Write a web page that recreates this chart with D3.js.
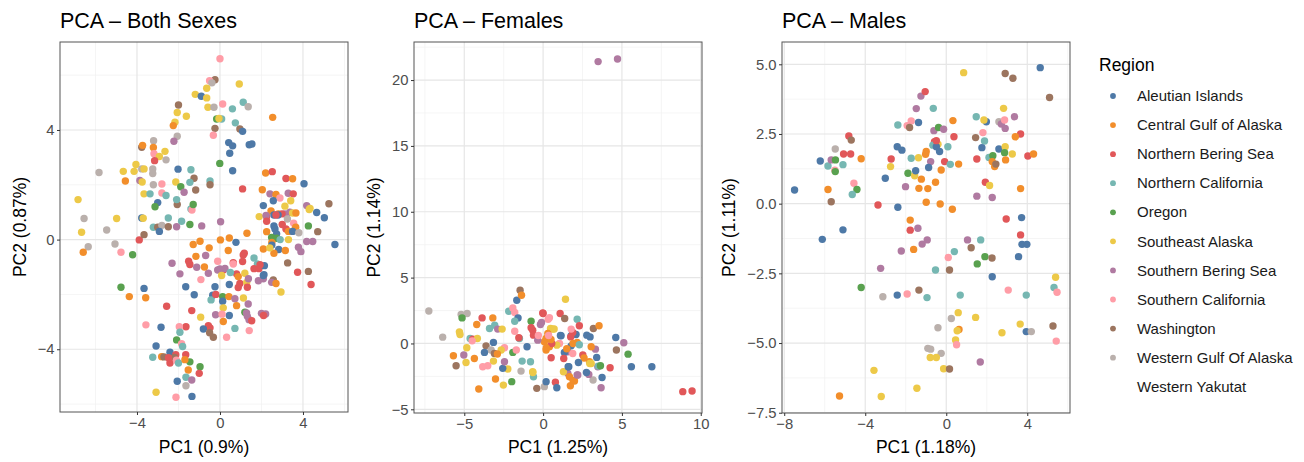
<!DOCTYPE html>
<meta charset="utf-8">
<style>
    body { margin: 0; background: #ffffff; }
    svg { display: block; font-family: "Liberation Sans", Arial, sans-serif; }
</style>

<script src="https://d3js.org/d3.v7.min.js"></script>

<svg id="chart" width="1304" height="462"></svg>

<script>

// =============================================================================
// PCA scatter panels (both sexes / females / males), coloured by region
// =============================================================================

// Data

var regions = ["Aleutian Islands", "Central Gulf of Alaska", "Northern Bering Sea",
    "Northern California", "Oregon", "Southeast Alaska", "Southern Bering Sea",
    "Southern California", "Washington", "Western Gulf Of Alaska", "Western Yakutat"];
var regionCodes = ["A", "C", "N", "K", "O", "S", "B", "P", "W", "G", "Y"];
var regionColors = ["#4E79A7", "#F28E2B", "#E15759", "#76B7B2", "#59A14F", "#EDC948",
    "#B07AA1", "#FF9DA7", "#9C755F", "#BAB0AC", null];   // 11th level has no colour

var panelTitles = ["PCA \u2013 Both Sexes", "PCA \u2013 Females", "PCA \u2013 Males"];
var xTitles = ["PC1 (0.9%)", "PC1 (1.25%)", "PC1 (1.18%)"];
var yTitles = ["PC2 (0.87%)", "PC2 (1.14%)", "PC2 (1.11%)"];

var bothXTicks = [-4, 0, 4],        bothYTicks = [-4, 0, 4];
var femaleXTicks = [-5, 0, 5, 10],  femaleYTicks = [-5, 0, 5, 10, 15, 20];
var maleXTicks = [-8, -4, 0, 4],    maleYTicks = [-7.5, -5, -2.5, 0, 2.5, 5];

// [PC1, PC2, region code]
var bothPoints = [
    [0.0,6.6,"P"],[-0.24,5.83,"W"],[-0.5,5.8,"P"],[-0.39,5.72,"G"],[0.93,5.68,"S"],[-1.19,5.3,"S"],
    [-0.9,5.23,"A"],[-0.64,5.17,"S"],[-0.64,5.52,"S"],[0.13,4.95,"P"],[-0.58,4.83,"S"],[-0.29,4.83,"G"],
    [0.6,4.77,"K"],[1.12,5.01,"K"],[1.36,4.85,"G"],[-2.0,4.91,"W"],[-2.06,4.64,"S"],[-1.62,4.5,"S"],
    [-0.16,4.4,"O"],[0.08,4.4,"K"],[-0.05,4.42,"S"],[0.74,4.26,"K"],[2.54,4.46,"C"],[-2.17,4.28,"S"],
    [-2.25,4.16,"C"],[-0.24,4.06,"W"],[0.96,4.04,"W"],[1.09,3.95,"A"],[-2.06,3.77,"G"],[-0.32,3.81,"P"],
    [-2.22,3.59,"B"],[0.42,3.54,"A"],[0.61,3.42,"A"],[1.41,3.46,"A"],[1.54,3.49,"A"],[0.47,3.15,"A"],
    [-3.2,3.61,"G"],[-3.77,3.37,"W"],[-3.73,3.44,"C"],[-3.21,3.36,"C"],[-3.18,3.13,"P"],[-2.92,3.03,"S"],
    [-2.65,3.22,"S"],[-3.15,2.88,"N"],[-2.6,2.91,"G"],[-3.24,2.58,"G"],[-3.24,2.41,"G"],[-4.05,2.74,"S"],
    [-4.14,2.49,"S"],[-3.77,2.58,"G"],[-3.66,2.58,"S"],[-4.66,2.49,"S"],[-4.56,2.14,"C"],[-5.83,2.45,"G"],
    [-3.86,2.16,"B"],[-3.75,2.1,"S"],[-3.21,2.0,"G"],[-2.02,2.57,"A"],[-1.4,2.55,"K"],[-1.25,2.24,"W"],
    [-1.45,2.09,"K"],[-0.01,2.78,"O"],[0.61,2.51,"A"],[-0.48,2.14,"K"],[-0.48,2.0,"W"],[-2.13,2.1,"S"],
    [-2.8,2.03,"P"],[-1.89,1.93,"O"],[-1.73,1.73,"B"],[-1.17,1.81,"W"],[1.09,1.85,"N"],[2.2,2.43,"C"],
    [2.52,2.48,"N"],[3.18,2.23,"N"],[3.5,2.22,"C"],[4.05,2.04,"A"],[2.04,1.82,"C"],[2.41,1.67,"B"],
    [2.7,1.65,"C"],[2.89,1.52,"P"],[3.29,1.69,"B"],[3.53,1.67,"N"],[3.41,1.42,"S"],[2.57,1.42,"A"],
    [2.09,1.24,"A"],[4.18,1.24,"B"],[5.25,1.31,"W"],[4.66,0.99,"A"],[5.03,0.8,"A"],[4.3,1.1,"S"],
    [2.46,1.05,"C"],[2.81,0.94,"C"],[3.13,0.94,"B"],[3.37,1.0,"B"],[3.5,0.97,"S"],[3.66,0.97,"C"],
    [2.99,0.94,"N"],[1.89,0.84,"S"],[2.25,0.84,"N"],[3.25,0.75,"G"],[4.26,0.5,"O"],[-1.4,1.12,"K"],
    [-1.35,1.08,"P"],[-1.29,1.28,"O"],[-2.06,1.28,"W"],[-2.09,1.46,"K"],[-3.0,1.35,"A"],[-3.13,1.2,"O"],
    [-3.66,1.67,"S"],[-3.37,1.67,"K"],[-2.8,1.7,"P"],[-2.6,1.61,"K"],[-6.84,1.46,"S"],[-6.55,0.77,"G"],
    [-4.98,0.77,"S"],[-3.77,0.79,"A"],[-3.7,0.78,"S"],[-2.49,0.79,"K"],[-1.85,0.67,"K"],[-1.45,0.55,"O"],
    [-0.88,0.5,"B"],[0.03,0.65,"B"],[-6.67,0.27,"S"],[-5.46,0.35,"G"],[-6.35,-0.26,"G"],[-6.59,-0.46,"C"],
    [-5.06,-0.16,"G"],[-4.77,-0.46,"P"],[-4.21,-0.55,"O"],[-3.89,-0.01,"N"],[-3.66,0.18,"W"],[-3.21,0.45,"K"],
    [-3.0,0.45,"W"],[-2.8,0.52,"G"],[-2.92,0.3,"A"],[-2.49,0.47,"W"],[-2.09,0.47,"B"],[0.77,-0.1,"A"],
    [0.02,-0.01,"C"],[0.45,0.06,"C"],[1.3,0.23,"C"],[-1.29,-0.18,"C"],[-0.96,-0.06,"C"],[-0.52,-0.3,"C"],
    [0.4,-0.4,"C"],[1.17,-0.5,"N"],[-0.69,-0.58,"B"],[-1.16,-0.61,"C"],[1.64,-0.67,"K"],[-0.11,-0.79,"P"],
    [-1.51,-0.79,"N"],[-1.45,-0.91,"N"],[-2.31,-0.86,"B"],[-1.12,-1.01,"B"],[-1.93,-1.25,"B"],[-0.56,-1.23,"B"],
    [-0.92,-1.46,"P"],[-0.11,-1.11,"B"],[0.16,-1.11,"N"],[0.64,-0.84,"N"],[0.8,-1.25,"N"],[0.96,-1.6,"N"],
    [0.88,-1.75,"N"],[0.64,-0.89,"P"],[1.2,-1.23,"S"],[1.8,-0.89,"K"],[1.64,-1.06,"N"],[1.88,-1.06,"N"],
    [2.14,-0.95,"A"],[2.57,-1.47,"W"],[1.85,-1.5,"B"],[2.12,-1.28,"A"],[1.29,-1.56,"S"],[1.32,-1.74,"N"],
    [0.88,-1.35,"C"],[2.94,-1.91,"S"],[3.74,-1.19,"N"],[4.26,-1.16,"W"],[4.39,-1.64,"N"],[3.26,-0.85,"W"],
    [-0.24,-1.72,"A"],[0.45,-1.64,"A"],[-1.65,-1.72,"A"],[-1.24,-2.01,"A"],[-0.35,-2.03,"A"],[-0.43,-2.2,"K"],
    [-0.2,-2.0,"N"],[0.13,-2.08,"O"],[0.13,-2.25,"A"],[0.43,-2.08,"C"],[0.72,-2.16,"B"],[1.13,-2.13,"S"],
    [1.36,-2.35,"B"],[0.16,-2.49,"S"],[0.8,-2.41,"C"],[1.2,-2.65,"O"],[1.32,-2.8,"B"],[1.4,-2.92,"B"],
    [1.28,-2.68,"B"],[1.53,-2.96,"N"],[2.0,-2.69,"B"],[2.2,-2.71,"B"],[2.1,-2.77,"N"],[0.45,-2.77,"A"],
    [-0.21,-2.74,"B"],[0.1,-2.72,"P"],[1.41,-3.32,"P"],[0.72,-3.24,"K"],[0.32,-3.56,"P"],[-1.36,-2.59,"N"],
    [-2.57,-2.43,"N"],[-0.93,-2.83,"S"],[-0.56,-3.14,"N"],[-0.48,-3.22,"N"],[-0.8,-3.26,"A"],[-0.32,-3.56,"W"],
    [-0.5,-3.4,"W"],[-3.57,-3.11,"P"],[-2.84,-3.2,"A"],[-1.64,-3.18,"N"],[-1.96,-3.18,"P"],[-1.93,-3.38,"K"],
    [-2.09,-3.66,"O"],[-1.85,-3.8,"P"],[-1.8,-3.9,"K"],[-3.08,-3.88,"A"],[-2.41,-4.11,"A"],[-2.13,-4.2,"N"],
    [-3.24,-4.29,"K"],[-2.81,-4.27,"C"],[-2.7,-4.28,"W"],[-2.2,-4.3,"W"],[-2.48,-4.31,"N"],[-2.41,-4.5,"N"],
    [-2.1,-4.4,"P"],[-2.0,-4.5,"K"],[-1.45,-4.46,"O"],[-1.53,-4.76,"C"],[-0.96,-4.64,"O"],[-1.0,-4.88,"N"],
    [-1.64,-5.02,"K"],[-1.36,-5.12,"B"],[-2.06,-5.17,"A"],[-1.64,-5.33,"G"],[-3.08,-5.57,"S"],[-2.12,-5.75,"P"],
    [-1.35,-5.72,"A"],[-1.65,-4.2,"N"],[-1.69,-4.38,"C"],[-4.77,-1.74,"O"],[-3.66,-1.78,"A"],[-4.37,-2.08,"C"],
    [-3.58,-2.12,"C"],[3.13,1.22,"S"],[4.34,1.14,"S"],[2.22,0.88,"B"],[2.25,0.67,"N"],[2.6,0.9,"A"],
    [2.8,0.9,"A"],[2.7,0.9,"N"],[3.55,0.6,"P"],[3.0,0.55,"N"],[2.6,0.5,"A"],[3.65,0.45,"C"],
    [2.25,0.29,"C"],[2.09,-0.34,"C"],[2.65,0.39,"A"],[2.73,0.21,"A"],[3.18,0.39,"N"],[3.3,0.3,"C"],
    [3.6,0.35,"C"],[2.49,0.08,"O"],[2.73,0.05,"O"],[2.9,0.0,"K"],[3.3,0.0,"S"],[3.5,0.3,"A"],
    [3.8,0.25,"G"],[4.71,0.29,"W"],[4.18,-0.07,"B"],[4.47,-0.07,"B"],[3.78,-0.28,"B"],[3.9,-0.44,"B"],
    [5.54,-0.18,"A"],[2.5,-0.1,"C"],[2.83,-0.36,"A"],[3.15,-0.4,"C"],[2.6,-0.5,"C"],[2.5,-0.2,"A"],
    [2.4,-0.3,"S"],[-0.75,-1.0,"C"],[0.0,-1.07,"B"],[0.24,-1.05,"B"],[1.12,-0.56,"N"],[1.09,-0.8,"N"],
    [1.93,-0.92,"N"],[2.09,-1.43,"B"],[1.37,-1.43,"B"],[2.09,-1.31,"A"],[2.49,-1.56,"B"],[2.7,-1.6,"C"],
    [0.08,-1.31,"S"],[0.5,-1.2,"K"],[0.16,-2.99,"C"]
];

var femalePoints = [
    [3.49,21.4,"B"],[4.72,21.6,"B"],
    [-7.25,2.47,"G"],[-6.37,0.48,"G"],[-5.2,2.2,"G"],[-4.82,2.27,"G"],[-5.14,1.94,"O"],[-3.87,1.94,"N"],
    [-3.19,1.94,"C"],[-4.21,1.44,"C"],[-5.31,0.88,"S"],[-5.27,0.68,"S"],[-3.4,1.14,"K"],[-3.07,1.39,"K"],
    [-2.88,1.09,"B"],[-2.6,1.09,"S"],[-2.18,2.45,"K"],[-1.92,2.7,"P"],[-1.8,2.35,"P"],[-1.59,1.94,"A"],
    [-1.8,1.69,"K"],[-1.67,3.28,"A"],[-1.46,4.04,"W"],[-1.37,3.66,"C"],[-1.8,0.93,"P"],[-1.5,0.38,"K"],
    [-1.54,0.43,"N"],[-0.76,1.69,"O"],[-0.66,1.01,"N"],[-0.76,1.19,"N"],[-0.61,0.63,"N"],[-0.17,1.44,"B"],
    [-0.02,2.32,"N"],[0.32,1.84,"P"],[1.08,2.27,"N"],[1.37,1.89,"W"],[1.42,3.36,"S"],[2.16,1.84,"K"],
    [2.3,1.34,"N"],[0.47,1.14,"S"],[0.61,1.09,"S"],[0.3,0.76,"C"],[0.19,0.38,"C"],[0.08,0.13,"C"],
    [1.14,0.58,"A"],[1.78,0.58,"A"],[2.09,0.68,"A"],[1.88,0.83,"N"],[1.78,1.09,"P"],[2.16,0.08,"C"],
    [3.19,1.14,"W"],[3.55,1.34,"C"],[2.77,0.63,"A"],[2.98,0.5,"A"],[4.61,0.45,"A"],[5.12,0.05,"B"],
    [4.65,-0.5,"W"],[5.39,-0.81,"O"],[5.6,-1.77,"A"],[6.9,-1.77,"A"],[8.86,-3.66,"N"],[9.45,-3.61,"N"],
    [4.25,-1.84,"N"],[3.68,-3.36,"B"],[3.74,-2.58,"A"],[3.47,-1.77,"B"],[3.5,-1.72,"K"],[3.4,-1.06,"A"],
    [3.32,-0.43,"B"],[3.05,-0.25,"C"],[2.94,-1.39,"C"],[3.05,-1.52,"S"],[3.64,-1.69,"O"],[2.52,-0.88,"N"],
    [2.6,-1.1,"C"],[2.24,-1.44,"A"],[2.2,-2.4,"B"],[1.99,-2.85,"C"],[1.57,-2.27,"B"],[1.67,-2.53,"C"],
    [1.63,-1.77,"A"],[1.57,-0.63,"B"],[1.35,-0.68,"A"],[1.31,-1.14,"N"],[1.29,-2.15,"S"],[1.88,-0.76,"P"],
    [1.78,-0.18,"A"],[1.04,0.0,"P"],[0.87,-0.13,"S"],[0.51,-1.09,"N"],[0.19,-0.5,"C"],[0.4,-0.25,"C"],
    [0.55,0.0,"N"],[-0.34,0.25,"B"],[-1.02,-0.25,"A"],[-0.8,-1.39,"K"],[-1.33,-1.34,"K"],[-1.4,-2.1,"G"],
    [-0.66,-2.15,"S"],[-0.61,-2.53,"K"],[-1.99,-2.9,"O"],[-2.52,-3.16,"S"],[-3.02,-2.7,"C"],[-4.08,-3.46,"C"],
    [-0.4,-3.41,"W"],[0.08,-3.28,"G"],[0.19,-2.9,"A"],[0.78,-2.95,"N"],[0.87,-3.36,"A"],[-1.92,-0.68,"O"],
    [-1.7,-0.5,"P"],[-2.24,-1.94,"S"],[-2.56,-1.89,"A"],[-2.45,-1.39,"B"],[-2.45,-0.33,"P"],[-2.66,-0.5,"S"],
    [-3.15,0.08,"A"],[-3.62,-0.18,"W"],[-3.3,-0.5,"G"],[-3.09,-0.76,"W"],[-2.9,-0.8,"C"],[-3.15,-1.34,"S"],
    [-3.51,-1.69,"P"],[-3.83,-1.77,"P"],[-3.72,-0.68,"A"],[-4.36,-1.14,"C"],[-4.89,-1.44,"S"],[-5.03,-0.88,"B"],
    [-5.69,-0.93,"C"],[-5.52,-1.69,"W"],[-4.84,-0.33,"S"],[-4.63,0.38,"K"],[-4.46,0.33,"N"],[-4.17,0.38,"S"],
    [-4.5,0.2,"P"],[-0.65,-2.2,"S"],[0.0,2.27,"N"],[0.4,1.95,"P"],[-0.1,1.6,"B"],[1.1,0.6,"A"],
    [1.75,0.5,"N"],[1.9,0.0,"C"],[2.3,-0.1,"K"],[1.73,-3.21,"C"],[1.9,-2.8,"C"],[2.16,-2.4,"B"],
    [3.17,-2.78,"G"],[2.9,-2.35,"B"],[1.59,-1.77,"A"],[2.96,-1.52,"S"],[0.2,-0.35,"C"],[0.5,0.3,"C"],
    [0.7,1.1,"S"],[0.35,0.6,"P"],[-0.3,0.6,"P"],[1.5,-0.4,"C"],[2.75,-2.2,"A"]
];

var malePoints = [
    [-7.49,0.49,"A"],[-6.22,1.53,"A"],[-5.84,1.35,"K"],[-5.68,1.57,"B"],[-5.47,1.57,"O"],[-5.5,1.2,"P"],
    [-5.48,1.15,"O"],[-5.48,1.96,"G"],[-4.81,2.43,"N"],[-4.69,2.28,"W"],[-5.07,1.78,"N"],[-4.72,1.78,"N"],
    [-5.1,1.4,"K"],[-4.2,1.61,"C"],[-5.84,0.51,"C"],[-5.68,0.07,"W"],[-4.56,0.73,"P"],[-4.41,0.51,"O"],
    [-4.64,0.33,"K"],[-3.01,0.91,"A"],[-3.37,-0.05,"N"],[-2.39,-0.13,"A"],[-2.39,2.82,"K"],[-2.42,2.04,"A"],
    [-2.19,1.92,"A"],[-2.72,1.6,"N"],[-2.75,1.33,"S"],[-1.93,2.8,"P"],[-1.73,2.97,"P"],[-1.81,2.73,"W"],
    [-1.37,2.91,"A"],[-1.48,3.41,"B"],[-1.25,3.86,"B"],[-1.04,4.02,"N"],[-0.64,3.42,"K"],[-1.73,1.63,"K"],
    [-1.37,1.65,"S"],[-1.89,1.09,"O"],[-1.56,1.0,"S"],[-1.51,1.18,"A"],[-1.23,0.88,"C"],[-0.99,1.87,"C"],
    [-1.02,1.77,"C"],[-0.77,1.51,"B"],[-0.87,1.3,"A"],[-1.35,0.55,"C"],[-0.91,0.54,"C"],[-2.01,0.61,"B"],
    [-0.99,0.05,"C"],[-0.53,0.77,"C"],[-0.25,1.21,"C"],[-0.3,-0.01,"C"],[0.3,-0.2,"C"],[-0.58,2.22,"N"],
    [-0.66,2.1,"K"],[-0.41,2.13,"S"],[-0.49,2.04,"A"],[-0.33,1.87,"A"],[-0.61,2.62,"B"],[-0.38,2.73,"O"],
    [-0.13,2.67,"B"],[-0.08,1.51,"N"],[0.08,2.04,"K"],[0.2,1.41,"K"],[0.61,1.42,"C"],[0.33,2.98,"C"],
    [0.38,2.4,"N"],[0.86,4.7,"S"],[1.48,3.12,"K"],[1.98,2.94,"A"],[1.86,3.0,"S"],[1.81,2.55,"P"],
    [1.45,2.37,"W"],[1.89,2.25,"K"],[1.76,2.01,"A"],[1.51,1.6,"N"],[2.11,1.66,"K"],[2.3,1.72,"O"],
    [2.27,1.51,"C"],[2.39,1.33,"C"],[2.45,1.42,"W"],[1.93,0.77,"N"],[2.14,0.65,"S"],[1.51,0.27,"B"],
    [2.27,0.22,"B"],[2.6,1.96,"A"],[2.6,2.94,"G"],[2.72,2.86,"B"],[2.91,2.7,"B"],[2.88,3.0,"P"],
    [2.83,3.42,"S"],[2.91,2.04,"S"],[2.88,1.83,"O"],[2.93,1.57,"C"],[3.26,1.78,"S"],[3.37,3.12,"B"],
    [3.67,2.5,"N"],[3.41,2.4,"C"],[2.91,4.67,"W"],[3.29,4.5,"W"],[4.64,4.88,"A"],[5.1,3.81,"W"],
    [4.03,1.71,"N"],[4.31,1.78,"C"],[3.67,0.54,"C"],[2.96,-0.55,"N"],[3.72,-0.5,"A"],[-0.49,2.26,"N"],
    [-1.78,-0.59,"C"],[-1.78,-0.95,"N"],[-1.4,-0.88,"B"],[-5.1,-0.94,"A"],[-6.12,-1.28,"A"],[-2.22,-1.7,"B"],
    [-1.61,-1.64,"C"],[-1.19,-1.45,"B"],[-0.94,-1.3,"B"],[-3.24,-2.32,"B"],[-4.2,-3.01,"O"],[-2.42,-3.28,"A"],
    [-1.93,-3.24,"P"],[-1.35,-3.1,"W"],[-0.95,-3.37,"K"],[-3.13,-3.34,"G"],[-0.53,-2.38,"K"],[0.1,-1.93,"P"],
    [0.4,-1.72,"K"],[0.16,-2.38,"W"],[1.05,-1.3,"B"],[1.7,-1.3,"K"],[1.23,-1.58,"W"],[1.91,-1.9,"O"],
    [2.26,-1.95,"W"],[1.53,-2.16,"O"],[2.27,-2.62,"A"],[3.67,-1.12,"N"],[3.74,-1.46,"A"],[3.98,-1.46,"A"],
    [3.57,-1.9,"A"],[0.69,-3.28,"K"],[3.06,-3.1,"P"],[3.95,-3.28,"K"],[5.4,-2.64,"S"],[5.32,-3.01,"K"],
    [5.47,-3.18,"P"],[0.59,-3.91,"S"],[0.25,-4.12,"G"],[1.45,-4.08,"S"],[-0.41,-4.45,"G"],[0.63,-4.51,"C"],
    [0.54,-4.56,"S"],[0.46,-4.89,"S"],[0.51,-5.06,"P"],[2.75,-4.63,"S"],[3.65,-4.32,"S"],[3.95,-4.59,"A"],
    [4.2,-4.59,"G"],[5.27,-4.39,"W"],[5.43,-4.93,"P"],[-0.91,-5.19,"G"],[-0.77,-5.22,"G"],[-0.25,-5.37,"G"],
    [-0.79,-5.52,"S"],[-0.49,-5.52,"S"],[1.68,-5.68,"B"],[-0.13,-5.92,"S"],[0.16,-5.93,"W"],[-3.57,-5.98,"S"],
    [-5.27,-6.9,"C"],[-3.21,-6.92,"S"],[-1.45,-6.62,"S"]
];

// Layout

var svg = d3.select('svg#chart');

var panels = [
    { left: 60,  right: 348,  top: 42, bottom: 412, xDomain: [-7.71, 6.17], yDomain: [-6.29, 7.21],
      xTicks: bothXTicks, yTicks: bothYTicks, xMinor: [-6, -2, 2, 6], yMinor: [-6, -2, 2, 6],
      yFormat: d3.format('d'), points: bothPoints },
    { left: 414, right: 702,  top: 42, bottom: 413, xDomain: [-8.19, 10.08], yDomain: [-5.28, 22.89],
      xTicks: femaleXTicks, yTicks: femaleYTicks, xMinor: [-7.5, -2.5, 2.5, 7.5], yMinor: [-2.5, 2.5, 7.5, 12.5, 17.5, 22.5],
      yFormat: d3.format('d'), points: femalePoints },
    { left: 782, right: 1070, top: 42, bottom: 413, xDomain: [-8.11, 6.11], yDomain: [-7.51, 5.8],
      xTicks: maleXTicks, yTicks: maleYTicks, xMinor: [-6, -2, 2, 6], yMinor: [-6.25, -3.75, -1.25, 1.25, 3.75],
      yFormat: d3.format('.1f'), points: malePoints }
];

var colorOf = function (code) {
    return regionColors[regionCodes.indexOf(code)];
};

function styleAxis(a) {
    a.attr('font-size', null).attr('font-family', null);
    a.select('.domain').remove();
    a.selectAll('line').attr('stroke', '#333333').attr('stroke-width', 1);
    a.selectAll('text').attr('fill', '#4d4d4d').style('font-size', '14.8px');
}

function drawPanel(p, i) {
    var g = svg.append('g');
    var x = d3.scaleLinear().domain(p.xDomain).range([p.left, p.right]);
    var y = d3.scaleLinear().domain(p.yDomain).range([p.bottom, p.top]);

    // grid
    g.selectAll('line.vminor').data(p.xMinor).enter().append('line')
        .attr('x1', x).attr('x2', x).attr('y1', p.top).attr('y2', p.bottom)
        .attr('stroke', '#f0f0f0').attr('stroke-width', 0.7);
    g.selectAll('line.hminor').data(p.yMinor).enter().append('line')
        .attr('y1', y).attr('y2', y).attr('x1', p.left).attr('x2', p.right)
        .attr('stroke', '#f0f0f0').attr('stroke-width', 0.7);
    g.selectAll('line.vmajor').data(p.xTicks).enter().append('line')
        .attr('x1', x).attr('x2', x).attr('y1', p.top).attr('y2', p.bottom)
        .attr('stroke', '#e6e6e6').attr('stroke-width', 1.2);
    g.selectAll('line.hmajor').data(p.yTicks).enter().append('line')
        .attr('y1', y).attr('y2', y).attr('x1', p.left).attr('x2', p.right)
        .attr('stroke', '#e6e6e6').attr('stroke-width', 1.2);

    // points
    g.append('g').selectAll('circle')
        .data(p.points.filter(function (d) { return colorOf(d[2]); }))
        .enter().append('circle')
        .attr('cx', function (d) { return x(d[0]); })
        .attr('cy', function (d) { return y(d[1]); })
        .attr('r', 3.7)
        .attr('fill', function (d) { return colorOf(d[2]); });

    // border
    g.append('rect')
        .attr('x', p.left).attr('y', p.top)
        .attr('width', p.right - p.left).attr('height', p.bottom - p.top)
        .attr('fill', 'none').attr('stroke', '#555555').attr('stroke-width', 1);

    // axes
    g.append('g').attr('transform', 'translate(0,' + p.bottom + ')')
        .call(d3.axisBottom(x).tickValues(p.xTicks).tickSize(3).tickPadding(2.5))
        .call(styleAxis);
    var yAxis = g.append('g').attr('transform', 'translate(' + p.left + ',0)')
        .call(d3.axisLeft(y).tickValues(p.yTicks).tickFormat(p.yFormat).tickSize(3).tickPadding(2.5))
        .call(styleAxis);

    // titles
    g.append('text')
        .attr('x', p.left).attr('y', 28)
        .style('font-size', '21.5px').attr('fill', '#000')
        .text(panelTitles[i]);

    g.append('text')
        .attr('x', (p.left + p.right) / 2).attr('y', 453)
        .attr('text-anchor', 'middle')
        .style('font-size', '17.5px').attr('fill', '#000')
        .text(xTitles[i]);

    var labelLeft = yAxis.node().getBBox().x + p.left;
    var ty = (p.top + p.bottom) / 2;
    var tx = labelLeft - 12;
    g.append('text')
        .attr('transform', 'translate(' + tx + ',' + ty + ') rotate(-90)')
        .attr('text-anchor', 'middle')
        .style('font-size', '17.5px').attr('fill', '#000')
        .text(yTitles[i]);
}

panels.forEach(drawPanel);

// Legend

var legend = svg.append('g');

legend.append('text')
    .attr('x', 1099).attr('y', 71)
    .style('font-size', '17.5px').attr('fill', '#000')
    .text('Region');

var items = legend.selectAll('g.item').data(regions).enter().append('g')
    .attr('transform', function (d, i) { return 'translate(1113,' + (96 + i * 29.07) + ')'; });

items.filter(function (d, i) { return regionColors[i]; })
    .append('circle')
    .attr('r', 2.9)
    .attr('fill', function (d) { return regionColors[regions.indexOf(d)]; });

items.append('text')
    .attr('x', 24).attr('y', 5.2)
    .style('font-size', '15px').attr('fill', '#1a1a1a')
    .text(function (d) { return d; });

</script>
